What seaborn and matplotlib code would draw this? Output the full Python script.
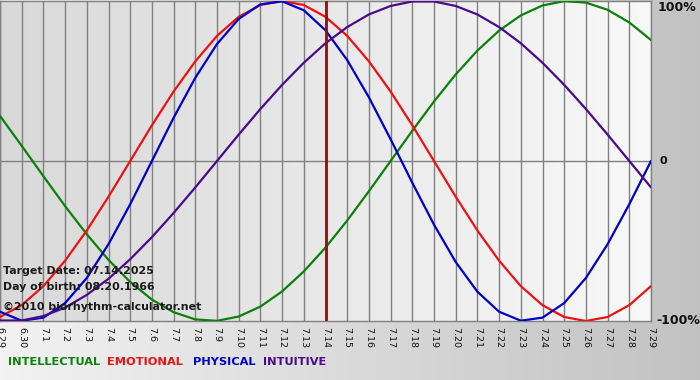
import numpy as np
import pandas as pd
import matplotlib
matplotlib.use("Agg")
import matplotlib.pyplot as plt
import seaborn as sns

# Day labels along the x axis
dates = ["6.29", "6.30", "7.1", "7.2", "7.3", "7.4", "7.5", "7.6", "7.7", "7.8",
         "7.9", "7.10", "7.11", "7.12", "7.13", "7.14", "7.15", "7.16", "7.17",
         "7.18", "7.19", "7.20", "7.21", "7.22", "7.23", "7.24", "7.25", "7.26",
         "7.27", "7.28", "7.29"]

# Cycle values per day (-1 .. 1)
intellectual = [0.282, 0.095, -0.095, -0.282, -0.458, -0.618, -0.756, -0.866, -0.945,
                -0.990, -0.999, -0.972, -0.910, -0.815, -0.690, -0.541, -0.372, -0.189,
                0.0, 0.189, 0.372, 0.541, 0.690, 0.815, 0.910, 0.972, 0.999, 0.990,
                0.945, 0.866, 0.756]
emotional = [-0.975, -0.901, -0.782, -0.623, -0.434, -0.223, 0.0, 0.223, 0.434, 0.623,
             0.782, 0.901, 0.975, 1.0, 0.975, 0.901, 0.782, 0.623, 0.434, 0.223, 0.0,
             -0.223, -0.434, -0.623, -0.782, -0.901, -0.975, -1.0, -0.975, -0.901, -0.782]
physical = [-0.942, -0.998, -0.979, -0.888, -0.731, -0.520, -0.270, 0.0, 0.270, 0.520,
            0.731, 0.888, 0.979, 0.998, 0.942, 0.817, 0.631, 0.398, 0.136, -0.136,
            -0.398, -0.631, -0.817, -0.942, -0.998, -0.979, -0.888, -0.731, -0.520,
            -0.270, 0.0]
intuitive = [-0.997, -0.997, -0.969, -0.916, -0.837, -0.736, -0.614, -0.476, -0.325,
             -0.165, 0.0, 0.165, 0.325, 0.476, 0.614, 0.736, 0.837, 0.916, 0.969, 0.997,
             0.997, 0.969, 0.916, 0.837, 0.736, 0.614, 0.476, 0.325, 0.165, 0.0, -0.165]

target_date = "7.14"
series_names = ["INTELLECTUAL", "EMOTIONAL", "PHYSICAL", "INTUITIVE"]
colors = {"INTELLECTUAL": "#0b800b", "EMOTIONAL": "#ee1111",
          "PHYSICAL": "#0000cc", "INTUITIVE": "#4b0a8c"}

df = pd.DataFrame({"day": list(range(len(dates))) * 4,
                   "value": intellectual + emotional + physical + intuitive,
                   "series": np.repeat(series_names, len(dates))})

sns.set_style("white")
plt.rcParams["font.family"] = ["DejaVu Sans"]

W, H = 700, 380
fig = plt.figure(figsize=(W / 100, H / 100), dpi=100)

# outer background: light at left, darker grey at right
bg = fig.add_axes([0, 0, 1, 1], zorder=-10)
g = np.linspace(0.95, 0.76, 256)[None, :]
bg.imshow(np.dstack([g, g, g]), aspect="auto", extent=[0, 1, 0, 1])
bg.axis("off")

ax = fig.add_axes([0, 1 - 321 / H, 651 / W, 320 / H])
ax.set_xlim(0, len(dates) - 1)
ax.set_ylim(-1, 1)

# plot area gradient
pg = np.linspace(0.85, 0.975, 256)[None, :]
ax.imshow(np.dstack([pg, pg, pg]), aspect="auto",
          extent=[0, len(dates) - 1, -1, 1], zorder=0)

ax.set_xticks(range(len(dates)))
ax.set_xticklabels(dates, rotation=-90, fontsize=6.8, color="#111111")
ax.tick_params(axis="x", length=3, width=1, color="#808080", pad=1)
ax.set_yticks([])
ax.grid(axis="x", color="#808080", lw=1, zorder=1)
ax.set_axisbelow(False)
ax.axhline(0, color="#808080", lw=1, zorder=1)
for s in ax.spines.values():
    s.set_color("#808080")
    s.set_linewidth(1)

sns.lineplot(data=df, x="day", y="value", hue="series", palette=colors,
             hue_order=series_names, lw=1.6, legend=False, ax=ax, zorder=3)
ax.axvline(dates.index(target_date), color="#801515", lw=2, zorder=4)
ax.set_xlabel("")
ax.set_ylabel("")

# right side labels
ax.text(len(dates) - 1 + 0.3, 1.0, "100%", va="top", ha="left",
        fontsize=9, fontweight="bold", color="#111111", clip_on=False)
ax.text(len(dates) - 1 + 0.4, 0, "0", va="center", ha="left",
        fontsize=8, fontweight="bold", color="#111111", clip_on=False)
ax.text(len(dates) - 1 + 0.25, -1.0, "-100%", va="center", ha="left",
        fontsize=9, fontweight="bold", color="#111111", clip_on=False)

# info text
info = [("Target Date: 07.14.2025", 271), ("Day of birth: 08.20.1966", 287),
        ("\u00a92010 biorhythm-calculator.net", 307)]
for txt, y in info:
    fig.text(3 / W, 1 - y / H, txt, va="center", ha="left", fontsize=7.9,
             fontweight="bold", color="#1a1a1a", zorder=10)

# legend labels
leg_x = [8, 107, 193, 263]
for name, x in zip(series_names, leg_x):
    fig.text(x / W, 1 - 362 / H, name, va="center", ha="left", fontsize=8.2,
             fontweight="bold", color=colors[name])

fig.savefig("out.png", dpi=100)
